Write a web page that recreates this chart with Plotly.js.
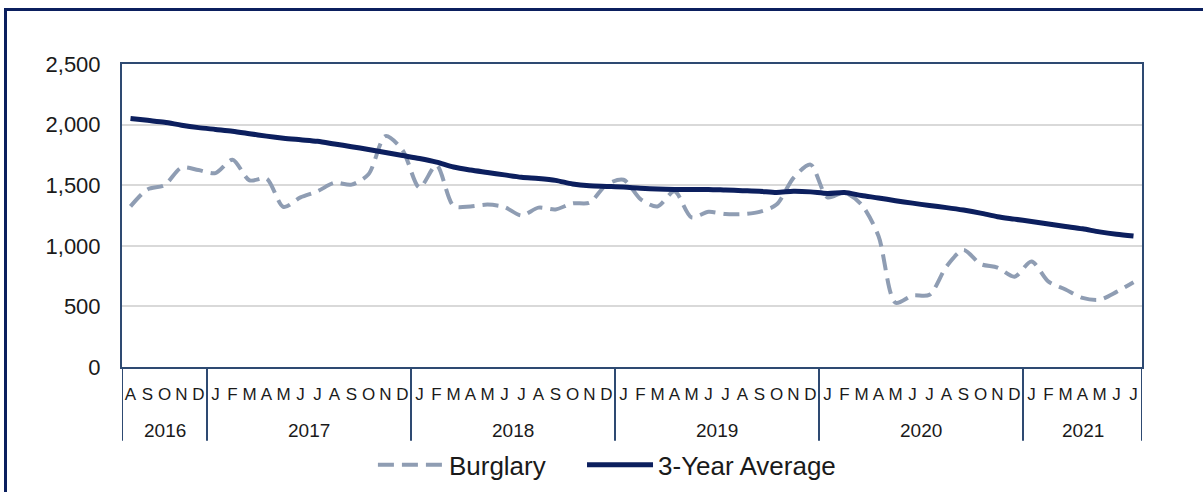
<!DOCTYPE html>
<html>
<head>
<meta charset="utf-8">
<script src="https://cdn.plot.ly/plotly-3.0.1.min.js"></script>
<style>
  html, body { margin: 0; padding: 0; background: #fff; }
  #chart { position: absolute; left: 0; top: 0; width: 1203px; height: 492px; }
  #frame { position: absolute; left: 4px; top: 8px; width: 1300px; height: 600px;
           border-top: 3px solid #0b1f5e; border-left: 3px solid #0b1f5e; pointer-events: none; }
</style>
</head>
<body>
<div id="chart"></div>
<div id="frame"></div>
<script>
// Month-by-month, Aug 2016 .. Jul 2021
const years = [
  "2016","2016","2016","2016","2016",
  "2017","2017","2017","2017","2017","2017","2017","2017","2017","2017","2017","2017",
  "2018","2018","2018","2018","2018","2018","2018","2018","2018","2018","2018","2018",
  "2019","2019","2019","2019","2019","2019","2019","2019","2019","2019","2019","2019",
  "2020","2020","2020","2020","2020","2020","2020","2020","2020","2020","2020","2020",
  "2021","2021","2021","2021","2021","2021","2021"
];
const months = [
  "A","S","O","N","D",
  "J","F","M","A","M","J","J","A","S","O","N","D",
  "J","F","M","A","M","J","J","A","S","O","N","D",
  "J","F","M","A","M","J","J","A","S","O","N","D",
  "J","F","M","A","M","J","J","A","S","O","N","D",
  "J","F","M","A","M","J","J"
];
const burglary = [
  1325, 1465, 1500, 1645, 1625,
  1600, 1710, 1540, 1555, 1320, 1400, 1450, 1520, 1505, 1590, 1905, 1790,
  1480, 1665, 1330, 1325, 1340, 1320, 1250, 1315, 1300, 1350, 1355, 1505,
  1545, 1385, 1325, 1450, 1235, 1280, 1262, 1262, 1280, 1340, 1560, 1670,
  1400, 1440, 1340, 1080, 530, 590, 596, 830, 965, 850, 820, 745,
  870, 704, 640, 570, 555, 620, 700
];
const threeYearAvg = [
  2050, 2035, 2020, 1995, 1975,
  1960, 1945, 1925, 1905, 1888, 1875, 1862, 1840, 1818, 1795, 1770, 1745,
  1720, 1690, 1650, 1625, 1605, 1585, 1565, 1555, 1540, 1510, 1495, 1490,
  1485, 1475, 1468, 1465, 1465, 1465, 1460, 1455, 1450, 1440, 1450, 1445,
  1432, 1440, 1415, 1395, 1372, 1352, 1332, 1315, 1295, 1270, 1240, 1220,
  1200, 1180, 1160, 1140, 1115, 1095, 1080
];
const yTickVals = [0, 500, 1000, 1500, 2000, 2500];

// unique category ids, one per month
const monthIds = months.map((m, i) => years[i] + "-" + String(i).padStart(2, "0") + "-" + m);

// year groups (start/end index) for labels and dividers
const groups = [];
years.forEach((y, i) => {
  if (!groups.length || groups[groups.length - 1].year !== y) groups.push({ year: y, start: i, end: i });
  else groups[groups.length - 1].end = i;
});

const font = "Liberation Sans, Arial, sans-serif";
const axisColor = "#2e4a72";

const annotations = groups.map(g => ({
  xref: "x", yref: "paper",
  x: (g.start + g.end) / 2, y: -0.21,
  text: g.year, showarrow: false,
  xanchor: "center", yanchor: "middle",
  font: { size: 19, family: font, color: "#1a1a1a" }
}));

const boundaries = groups.map(g => g.start - 0.5).concat([groups[groups.length - 1].end + 0.5]);
const shapes = boundaries.map(b => ({
  type: "line", xref: "x", yref: "paper",
  x0: b, x1: b, y0: 0, y1: -0.243,
  line: { color: axisColor, width: 2 }
}));

const traces = [
  {
    type: "scatter", mode: "lines", name: "Burglary", legend: "legend",
    x: monthIds, y: burglary,
    line: { color: "#8f9db3", width: 4, dash: "16px,8px", shape: "spline", smoothing: 0.8 }
  },
  {
    type: "scatter", mode: "lines", name: "3-Year Average", legend: "legend2",
    x: monthIds, y: threeYearAvg,
    line: { color: "#0c1f5e", width: 5, shape: "spline", smoothing: 0.8 }
  }
];

const legendBase = {
  orientation: "h", xanchor: "left", y: -0.323, yanchor: "middle",
  font: { size: 26, family: font, color: "#1a1a1a" },
  itemwidth: 66, bgcolor: "rgba(0,0,0,0)"
};

const layout = {
  width: 1203, height: 492,
  margin: { l: 122, r: 61, t: 64, b: 125, autoexpand: false },
  paper_bgcolor: "#ffffff", plot_bgcolor: "#ffffff",
  font: { family: font, color: "#1a1a1a" },
  showlegend: true,
  legend: Object.assign({}, legendBase, { x: 0.246 }),
  legend2: Object.assign({}, legendBase, { x: 0.451 }),
  xaxis: {
    type: "category",
    categoryorder: "array", categoryarray: monthIds,
    tickvals: monthIds, ticktext: months,
    showgrid: false,
    showline: true, linecolor: axisColor, linewidth: 2, mirror: true,
    ticks: "", tickangle: 0, ticklabelstandoff: 11,
    tickfont: { size: 17, family: font, color: "#1a1a1a" },
    range: [-0.5, 59.5]
  },
  yaxis: {
    range: [0, 2500],
    tickvals: yTickVals,
    tickformat: ",d",
    showgrid: true, gridcolor: "#d9d9d9", gridwidth: 2,
    zeroline: false,
    showline: true, linecolor: axisColor, linewidth: 2, mirror: true,
    ticks: "", ticklabelstandoff: 15,
    tickfont: { size: 22, family: font, color: "#1a1a1a" }
  },
  annotations: annotations,
  shapes: shapes
};

Plotly.newPlot("chart", traces, layout, { staticPlot: true, displayModeBar: false });
</script>
</body>
</html>
